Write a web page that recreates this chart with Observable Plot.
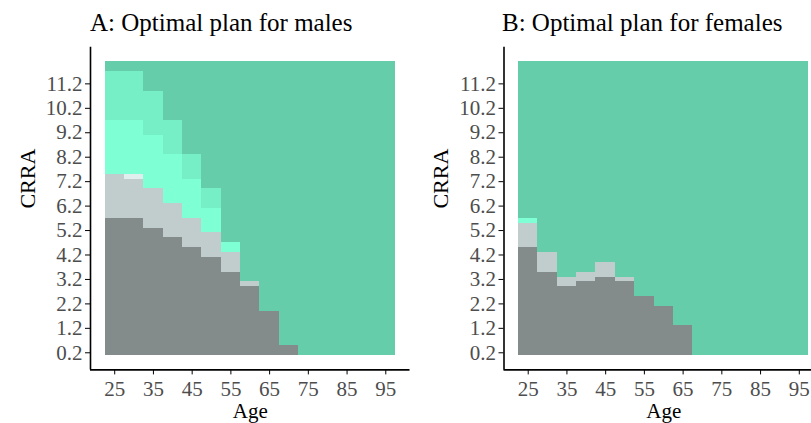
<!DOCTYPE html>
<html>
<head>
<meta charset="utf-8">
<script src="https://cdn.jsdelivr.net/npm/d3@7"></script>
<script src="https://cdn.jsdelivr.net/npm/@observablehq/plot@0.6"></script>
<style>
  html, body { margin: 0; padding: 0; background: #fff; }
  #wrap { position: relative; width: 811px; height: 423px; overflow: hidden; font-family: "Liberation Serif", serif; }
  .panel { position: absolute; top: 0; }
  .panel svg { max-width: none !important; display: block; }
  .title { position: absolute; top: 10px; font-size: 25px; color: #000; white-space: nowrap; line-height: 1; }
  svg text { font-family: "Liberation Serif", serif; }
  g[aria-label$="tick label"] text, g[aria-label$="tick label"], .tick text { fill: #4d4d4d; }
</style>
</head>
<body>
<div id="wrap">
  <div class="panel" id="pA" style="left:0px; width:410px"></div>
  <div class="panel" id="pB" style="left:410px; width:413px"></div>
  <div class="title" style="left:90px">A: Optimal plan for males</div>
  <div class="title" style="left:502px">B: Optimal plan for females</div>
</div>
<script>
// ---- data ----
const ages = [25, 30, 35, 40, 45, 50, 55, 60, 65, 70, 75, 80, 85, 90, 95];
const ageTicks = [25, 35, 45, 55, 65, 75, 85, 95];
const crraTicks = [0.2, 1.2, 2.2, 3.2, 4.2, 5.2, 6.2, 7.2, 8.2, 9.2, 10.2, 11.2];
const crraStep = 0.2;      // CRRA grid spacing (0.2 ... 12.0)
const crraMin = 0.2;
const crraMax = 12.0;
const ageStep = 5;

const plans = ["plan1", "plan2", "plan3", "plan4", "plan5", "plan6"];
const planColors = ["#838B8B", "#C1CDCD", "#E0EEEE", "#7FFFD4", "#76EEC6", "#66CDAA"];

// highest CRRA grid value (cumulative) at which each plan is optimal, per age
const maleTop1 = [5.6, 5.6, 5.2, 4.8, 4.4, 4.0, 3.4, 2.8, 1.8, 0.4, 0, 0, 0, 0, 0];
const maleTop2 = [7.4, 7.2, 6.8, 6.2, 5.6, 5.0, 4.2, 3.0, 1.8, 0.4, 0, 0, 0, 0, 0];
const maleTop3 = [7.4, 7.4, 6.8, 6.2, 5.6, 5.0, 4.2, 3.0, 1.8, 0.4, 0, 0, 0, 0, 0];
const maleTop4 = [9.6, 9.6, 9.0, 8.2, 7.2, 6.0, 4.6, 3.0, 1.8, 0.4, 0, 0, 0, 0, 0];
const maleTop5 = [11.6, 11.6, 10.8, 9.6, 8.2, 6.8, 4.6, 3.0, 1.8, 0.4, 0, 0, 0, 0, 0];
const maleTop6 = [12, 12, 12, 12, 12, 12, 12, 12, 12, 12, 12, 12, 12, 12, 12];

const femaleTop1 = [4.4, 3.4, 2.8, 3.0, 3.2, 3.0, 2.4, 2.0, 1.2, 0, 0, 0, 0, 0, 0];
const femaleTop2 = [5.4, 4.2, 3.2, 3.4, 3.8, 3.2, 2.4, 2.0, 1.2, 0, 0, 0, 0, 0, 0];
const femaleTop3 = [5.4, 4.2, 3.2, 3.4, 3.8, 3.2, 2.4, 2.0, 1.2, 0, 0, 0, 0, 0, 0];
const femaleTop4 = [5.6, 4.2, 3.2, 3.4, 3.8, 3.2, 2.4, 2.0, 1.2, 0, 0, 0, 0, 0, 0];
const femaleTop5 = [5.6, 4.2, 3.2, 3.4, 3.8, 3.2, 2.4, 2.0, 1.2, 0, 0, 0, 0, 0, 0];
const femaleTop6 = [12, 12, 12, 12, 12, 12, 12, 12, 12, 12, 12, 12, 12, 12, 12];

// ---- build tiles ----
function tiles(tops) {
  const out = [];
  ages.forEach((age, i) => {
    let lo = crraMin - crraStep / 2;
    tops.forEach((t, k) => {
      const hi = t[i] + crraStep / 2;
      if (hi > lo + 1e-9) { out.push({age, lo, hi, plan: plans[k]}); lo = hi; }
    });
  });
  return out;
}
const maleTiles = tiles([maleTop1, maleTop2, maleTop3, maleTop4, maleTop5, maleTop6]);
const femaleTiles = tiles([femaleTop1, femaleTop2, femaleTop3, femaleTop4, femaleTop5, femaleTop6]);

// ggplot-like 5% expansion
const xLo = ages[0] - ageStep / 2, xHi = ages[ages.length - 1] + ageStep / 2;
const yLo = crraMin - crraStep / 2, yHi = crraMax + crraStep / 2;
const xDom = [xLo - 0.05 * (xHi - xLo), xHi + 0.05 * (xHi - xLo)];
const yDom = [yLo - 0.05 * (yHi - yLo), yHi + 0.05 * (yHi - yLo)];

function panel(data, width, marginLeft) {
  return Plot.plot({
    width, height: 423,
    marginLeft, marginRight: width - marginLeft - 319.5,
    marginTop: 46.7, marginBottom: 53.6,
    style: {fontFamily: "Liberation Serif, serif", fontSize: "21px", color: "#000", background: "transparent", overflow: "visible"},
    x: {domain: xDom, ticks: ageTicks, tickSize: 5, tickPadding: 6, tickFormat: d => String(d), label: null},
    y: {domain: yDom, ticks: crraTicks, tickSize: 5, tickPadding: 3, tickFormat: d => d.toFixed(1), label: null},
    color: {domain: plans, range: planColors},
    marks: [
      Plot.rect(data, {
        x1: d => d.age - ageStep / 2, x2: d => d.age + ageStep / 2,
        y1: "lo", y2: "hi", fill: "plan", shapeRendering: "crispEdges"
      }),
      Plot.ruleX([xDom[0]], {stroke: "#000", strokeWidth: 1.6}),
      Plot.ruleY([yDom[0]], {stroke: "#000", strokeWidth: 1.6}),
      Plot.text(["CRRA"], {frameAnchor: "left", dx: -63, rotate: -90, fontSize: 22, fill: "#000"}),
      Plot.text(["Age"], {frameAnchor: "bottom", dy: 48, fontSize: 21, fill: "#000"})
    ]
  });
}

document.getElementById("pA").appendChild(panel(maleTiles, 410, 90));
document.getElementById("pB").appendChild(panel(femaleTiles, 413, 93.5));
</script>
</body>
</html>
